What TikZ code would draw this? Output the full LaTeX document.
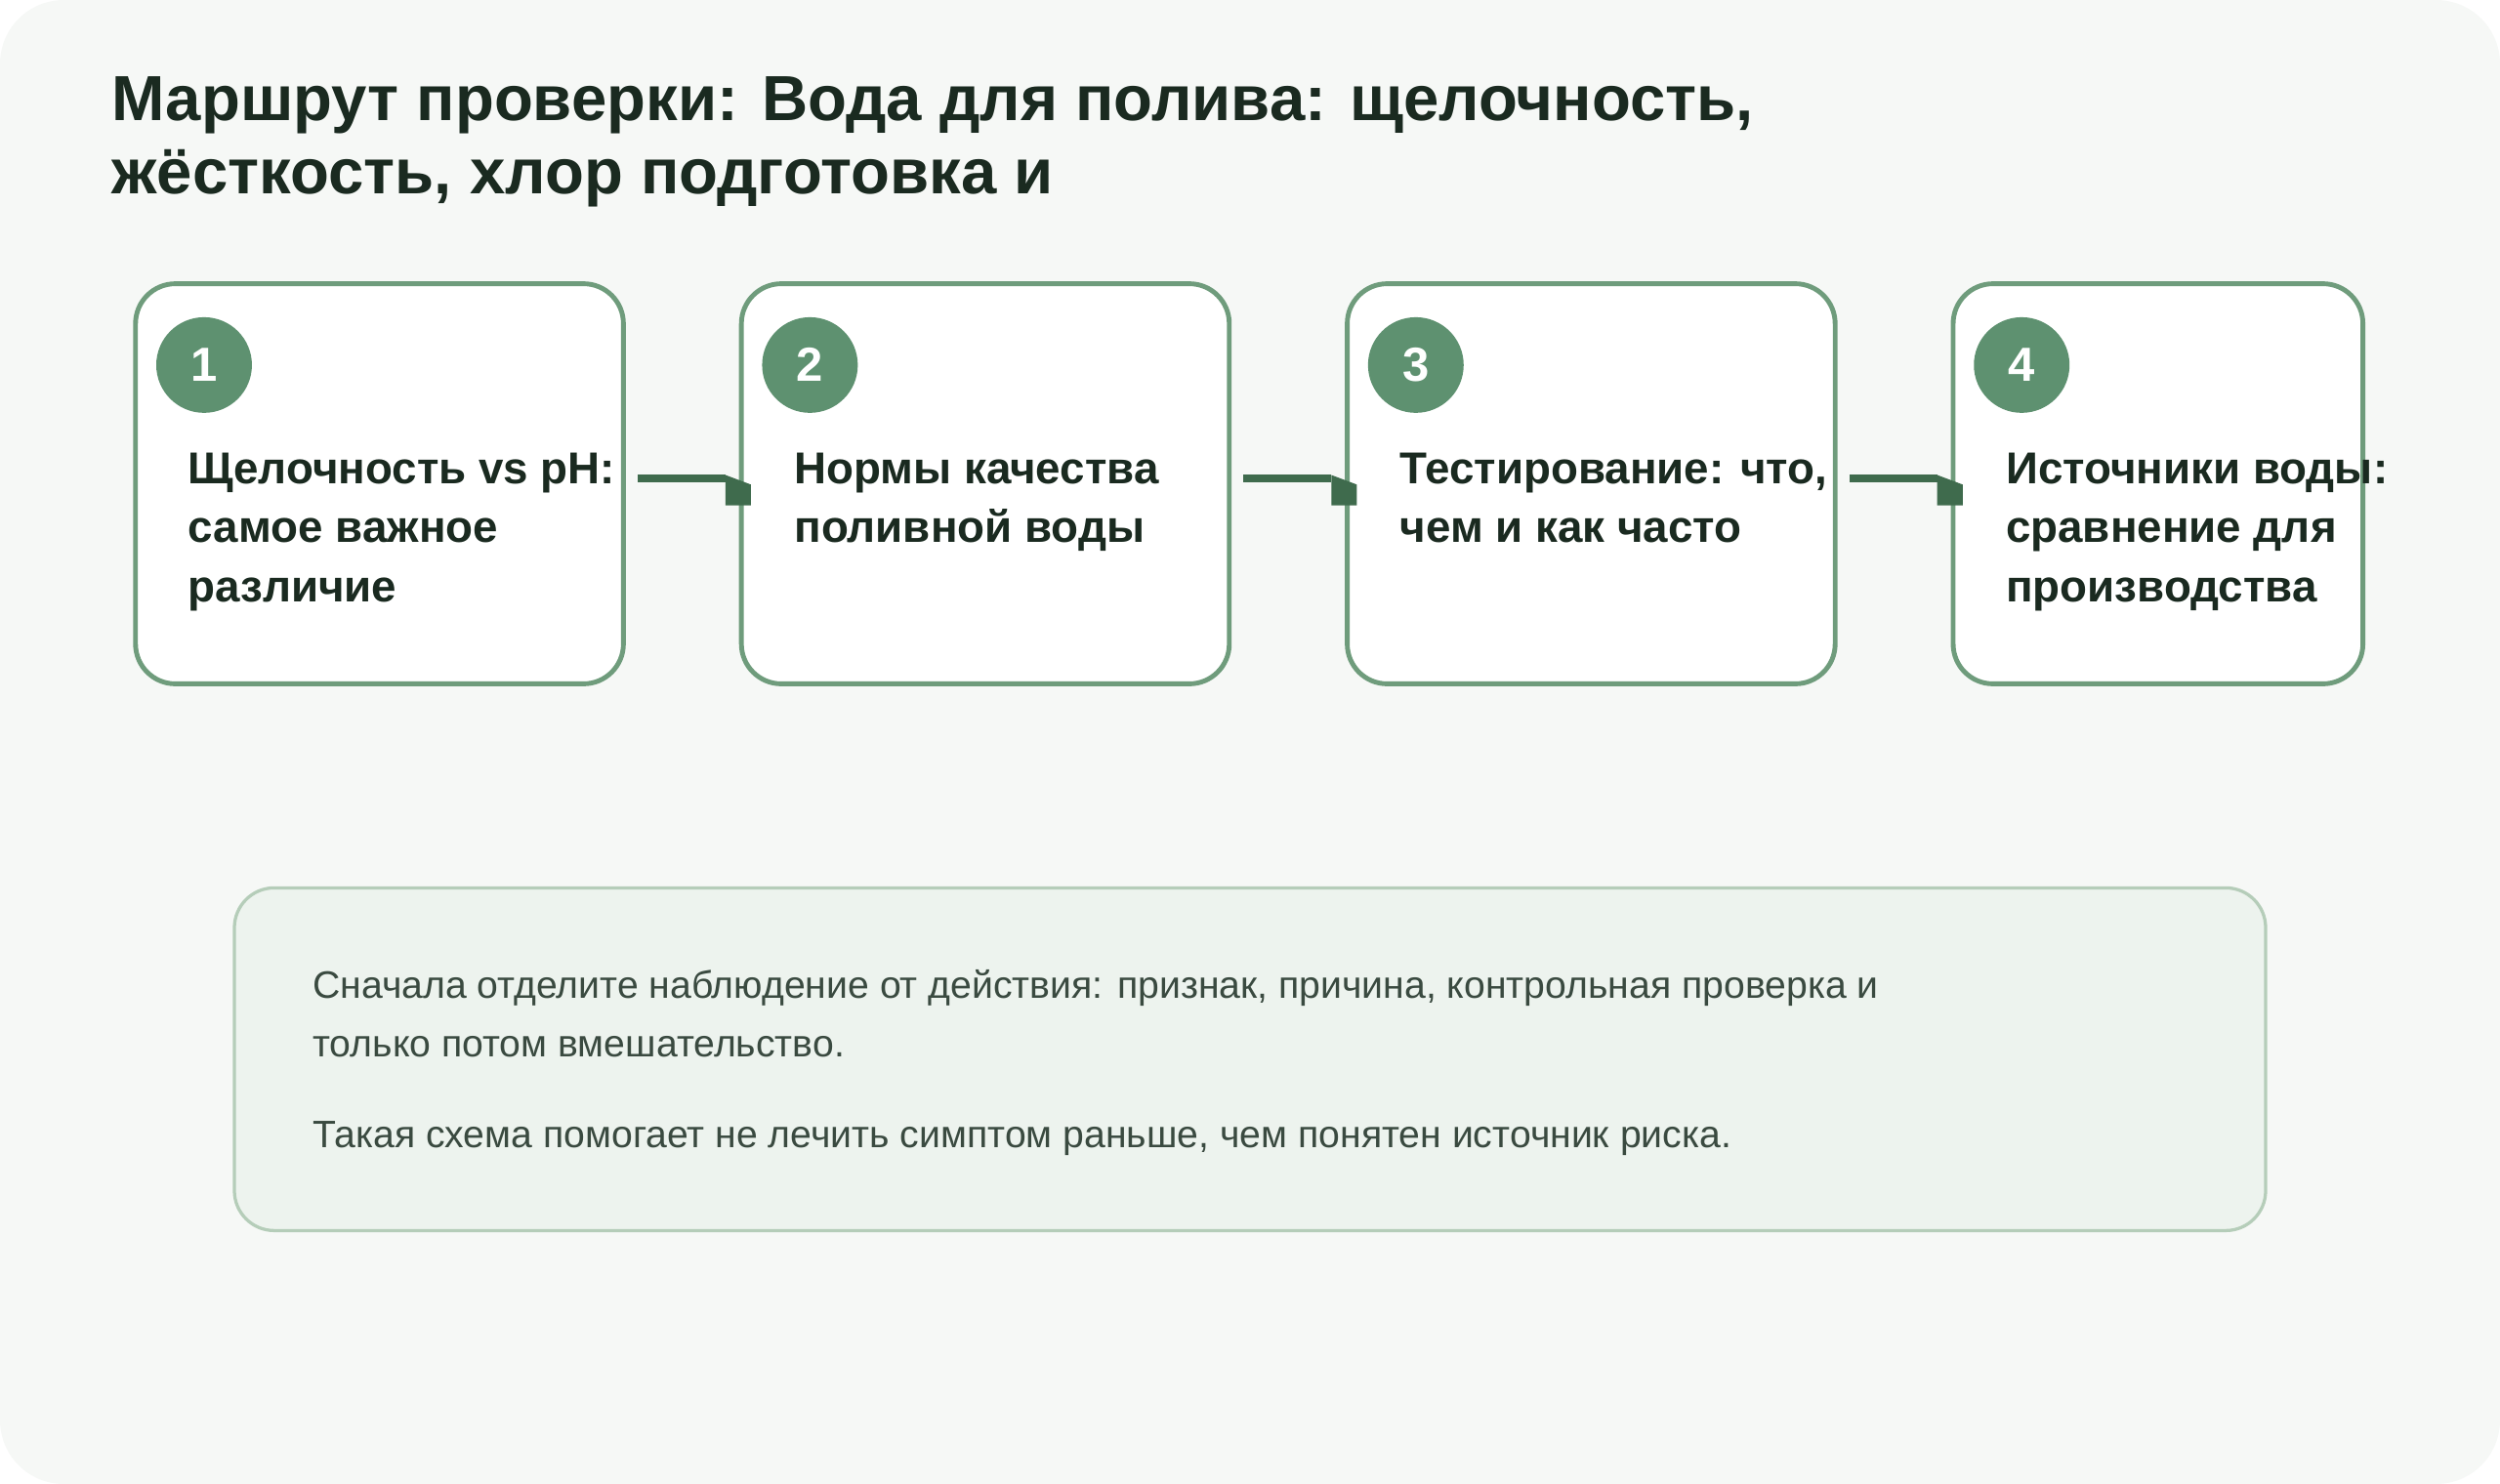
\documentclass[tikz,border=0pt]{standalone}
\usepackage{fontspec}
\setmainfont{Liberation Sans}
\usetikzlibrary{positioning}
\definecolor{pagebg}{HTML}{F6F8F6}
\definecolor{cardline}{HTML}{6F9C7C}
\definecolor{badge}{HTML}{5E9170}
\definecolor{darktext}{HTML}{1A2A20}
\definecolor{linkcol}{HTML}{3F6B4D}
\definecolor{notebg}{HTML}{EDF3EE}
\definecolor{noteline}{HTML}{B5CDB9}
\definecolor{notetext}{HTML}{3A4A40}
\begin{document}
\begin{tikzpicture}[x=1pt,y=-1pt,
    card/.style={draw=cardline,line width=3pt,fill=white,rounded corners=25pt},
    stepnum/.style={circle,fill=badge,minimum size=60pt,inner sep=0pt,text=white,font=\fontsize{30}{36}\selectfont\bfseries},
    cardtext/.style={anchor=north west,inner sep=0pt,align=left,text=darktext,font=\fontsize{28}{37}\selectfont\bfseries},
    link/.style={draw=linkcol,line width=5pt},
    tip/.style={fill=linkcol}]

    % page
    \fill[pagebg,rounded corners=40pt] (0,0) rectangle (1568,931);
    \useasboundingbox (0,0) rectangle (1568,931);

    % title
    \node[anchor=north west,inner sep=0pt,align=left,text=darktext,font=\fontsize{40}{46}\selectfont\bfseries] (title) at (70,48)
        {Маршрут проверки: Вода для полива: щелочность,\\жёсткость, хлор подготовка и};

    % cards
    \foreach \i/\x/\w in {1/85/306,2/465/306,3/845/306,4/1225/257}{
        \draw[card] (\x,178) rectangle ++(\w,251);
        \node[stepnum] (n\i) at (\x+43,229) {\i};
        \coordinate (r\i) at (\x+\w,300);
        \coordinate (l\i) at (\x,300);
    }

    % links
    \foreach \a/\b in {1/2,2/3,3/4}{
        \draw[link] ([xshift=9pt]r\a) -- ([xshift=-10pt]l\b);
        \fill[tip] ([xshift=-10pt]l\b) ++(0,-2) -- ++(16,6) -- ++(0,13) -- ++(-16,0) -- cycle;
    }

    \node[cardtext] (t1) at (118,284) {Щелочность vs pH:\\самое важное\\различие};
    \node[cardtext] (t2) at (498,284) {Нормы качества\\поливной воды};
    \node[cardtext] (t3) at (878,284) {Тестирование: что,\\чем и как часто};
    \node[cardtext] (t4) at (1258,284) {Источники воды:\\сравнение для\\производства};

    % note
    \draw[draw=noteline,line width=2pt,fill=notebg,rounded corners=25pt] (147,557) rectangle (1421,772);
    \node[anchor=north west,inner sep=0pt,align=left,text=notetext,font=\fontsize{24}{37}\selectfont] (note) at (196,608)
        {Сначала отделите наблюдение от действия: признак, причина, контрольная проверка и\\только потом вмешательство.};
    \node[anchor=north west,inner sep=0pt,text=notetext,font=\fontsize{24}{37}\selectfont] (note2) at (196,703)
        {Такая схема помогает не лечить симптом раньше, чем понятен источник риска.};
\end{tikzpicture}
\end{document}
